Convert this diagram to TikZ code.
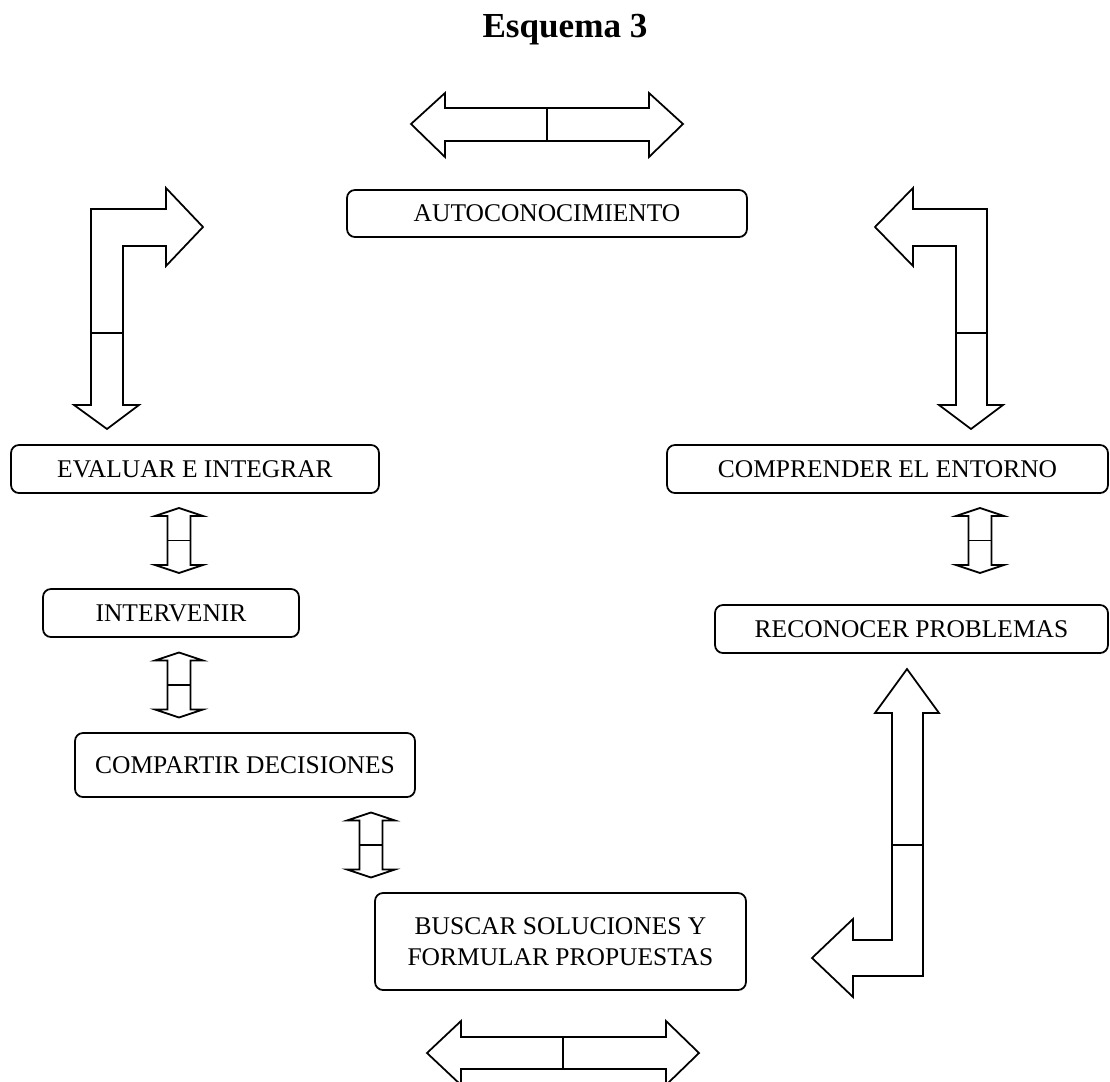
\documentclass[tikz,border=0pt]{standalone}
\usepackage{fontspec}
\setmainfont{Liberation Serif}
\usepackage{tikz}

\begin{document}
\begin{tikzpicture}[x=0.02cm, y=-0.02cm,
    font=\fontsize{14.5}{17.6}\selectfont,
    etapa/.style={draw, line width=1pt, rounded corners=4.5pt, align=center, inner sep=0pt},
    bloque/.style={draw, line width=1pt, line join=miter},
    vdoble/.pic={
      \draw [bloque] (0,-32.5) -- (24,-24.5) -- (11.5,-24.5) -- (11.5,24.5) -- (24,24.5)
        -- (0,32.5) -- (-24,24.5) -- (-11.5,24.5) -- (-11.5,-24.5) -- (-24,-24.5) -- cycle;
      \draw [bloque] (-11.5,0) -- (11.5,0);
    }]

      \useasboundingbox (0,0) rectangle (1110,1082);

      % titulo
      \node (titulo) [anchor=base, font=\fontsize{20}{24}\selectfont\bfseries] at (565,37) {Esquema 3};

      % etapas
      \node (auto) [etapa, minimum width=8cm, minimum height=0.94cm] at (547,213.5) {AUTOCONOCIMIENTO};
      \node (evaluar) [etapa, minimum width=7.36cm, minimum height=0.96cm] at (195,469) {EVALUAR E INTEGRAR};
      \node (comprender) [etapa, minimum width=8.82cm, minimum height=0.96cm] at (887.5,469) {COMPRENDER EL ENTORNO};
      \node (intervenir) [etapa, minimum width=5.12cm, minimum height=0.96cm] at (171,613) {INTERVENIR};
      \node (reconocer) [etapa, minimum width=7.86cm, minimum height=0.96cm] at (911.5,629) {RECONOCER PROBLEMAS};
      \node (compartir) [etapa, minimum width=6.8cm, minimum height=1.28cm] at (245,765) {COMPARTIR DECISIONES};
      \node (buscar) [etapa, minimum width=7.42cm, minimum height=1.94cm] at (560.5,941.5) {BUSCAR SOLUCIONES Y\\FORMULAR PROPUESTAS};

      % flecha doble arriba
      \draw [bloque] (411,124) -- (445,93) -- (445,108) -- (649,108) -- (649,93) -- (683,124)
        -- (649,157) -- (649,141) -- (445,141) -- (445,157) -- cycle;
      \draw [bloque] (547,108) -- (547,141);

      % flecha doble abajo
      \draw [bloque] (427,1053) -- (461,1021) -- (461,1037) -- (666,1037) -- (666,1021) -- (699,1053)
        -- (666,1085) -- (666,1069) -- (461,1069) -- (461,1085) -- cycle;
      \draw [bloque] (563,1037) -- (563,1069);

      % flecha acodada izquierda
      \draw [bloque] (123,333) -- (123,246) -- (166,246) -- (166,266) -- (203,227) -- (166,188)
        -- (166,209) -- (91,209) -- (91,405) -- (74,405) -- (107,429) -- (139,405) -- (123,405) -- cycle;
      \draw [bloque] (91,333) -- (123,333);

      % flecha acodada derecha
      \draw [bloque] (956,333) -- (956,246) -- (913,246) -- (913,266) -- (875,227) -- (913,188)
        -- (913,209) -- (987,209) -- (987,405) -- (1003,405) -- (971,429) -- (939,405) -- (956,405) -- cycle;
      \draw [bloque] (956,333) -- (987,333);

      % flecha acodada abajo derecha
      \draw [bloque] (892,845) -- (892,713) -- (875,713) -- (907,669) -- (939,713) -- (923,713)
        -- (923,976) -- (853,976) -- (853,997) -- (812,958) -- (853,919) -- (853,940) -- (892,940) -- cycle;
      \draw [bloque] (892,845) -- (923,845);

      % flechas dobles pequenas
      \pic (f1) at (179,540.5) {vdoble};
      \pic (f2) at (179,685) {vdoble};
      \pic (f3) at (371,845) {vdoble};
      \pic (f4) at (980,540.5) {vdoble};
    \end{tikzpicture}
\end{document}
